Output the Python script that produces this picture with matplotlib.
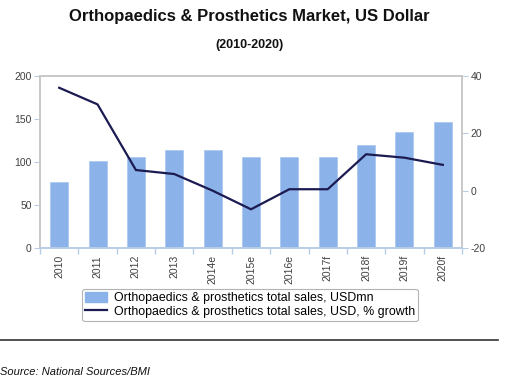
import matplotlib
matplotlib.use("Agg")
import matplotlib.pyplot as plt
import numpy as np
from matplotlib.patches import Patch
from matplotlib.lines import Line2D

plt.rcParams['font.family'] = ['Liberation Sans', 'DejaVu Sans']
plt.rcParams['axes.unicode_minus'] = False

years = ["2010", "2011", "2012", "2013", "2014e", "2015e", "2016e", "2017f", "2018f", "2019f", "2020f"]
sales = [77, 101, 106, 114, 114, 106, 106, 106, 120, 135, 147]
growth = [35.9, 30.1, 7.2, 5.8, 0.0, -6.5, 0.5, 0.5, 12.7, 11.5, 9.0]

bar_color = "#8cb3e9"
line_color = "#1b1b52"
spine_gray = "#c8c8c8"
tick_blue = "#b8cce4"

fig = plt.figure(figsize=(5.08, 3.85), dpi=100)
ax = fig.add_axes([40/508, 1 - 248/385, (462-40)/508, (248-76)/385])
ax2 = ax.twinx()

x = np.arange(len(years))
ax.bar(x, sales, width=0.47, color=bar_color, edgecolor="#a9c6ef", linewidth=0.5, zorder=2)
ax2.plot(x, growth, color=line_color, linewidth=1.6, zorder=3)

ax.set_xlim(-0.5, len(years) - 0.5)
ax.set_ylim(0, 200)
ax.set_yticks([0, 50, 100, 150, 200])
ax2.set_ylim(-20, 40)
ax2.set_yticks([-20, 0, 20, 40])

ax.set_xticks(x)
ax.set_xticklabels(years, rotation=90, fontsize=7.5, color="#404040")
ax.tick_params(axis='x', length=0, pad=5)
ax.set_xticks(np.arange(-0.5, len(years)), minor=True)
ax.tick_params(axis='x', which='minor', length=4, color=tick_blue, width=1)

ax.tick_params(axis='y', length=4, color=tick_blue, labelsize=7.5, labelcolor="#404040", pad=2)
ax2.tick_params(axis='y', length=4, color=tick_blue, labelsize=7.5, labelcolor="#404040", pad=2)

for a in (ax, ax2):
    for s in ('left', 'right', 'top'):
        a.spines[s].set_color(spine_gray)
        a.spines[s].set_linewidth(1.2)
    a.spines['bottom'].set_color(tick_blue)
    a.spines['bottom'].set_linewidth(1.2)

handles = [Patch(facecolor=bar_color, edgecolor=bar_color),
           Line2D([0], [0], color=line_color, linewidth=1.6)]
labels = ["Orthopaedics & prosthetics total sales, USDmn",
          "Orthopaedics & prosthetics total sales, USD, % growth"]
leg = fig.legend(handles, labels, loc='center', bbox_to_anchor=(250/508, 1 - 305/385),
                 fontsize=8.9, frameon=True, fancybox=True, edgecolor="#a0a0a0",
                 handlelength=1.8, handleheight=0.9, borderpad=0.25, labelspacing=0.1,
                 handletextpad=0.5)
leg.get_frame().set_linewidth(0.8)

fig.text(249/508, 1 - 16/385, "Orthopaedics & Prosthetics Market, US Dollar",
         ha='center', va='center', fontsize=12, fontweight='bold', color="#111111")
fig.text(249/508, 1 - 45/385, "(2010-2020)", ha='center', va='center',
         fontsize=9, fontweight='bold', color="#111111")

fig.add_artist(Line2D([0, 498/508], [1 - 340/385, 1 - 340/385], color="#333333", linewidth=1.2))
fig.text(0, 1 - 372/385, "Source: National Sources/BMI", ha='left', va='center',
         fontsize=8, style='italic', color="#111111")

fig.savefig("out.png", dpi=100)
